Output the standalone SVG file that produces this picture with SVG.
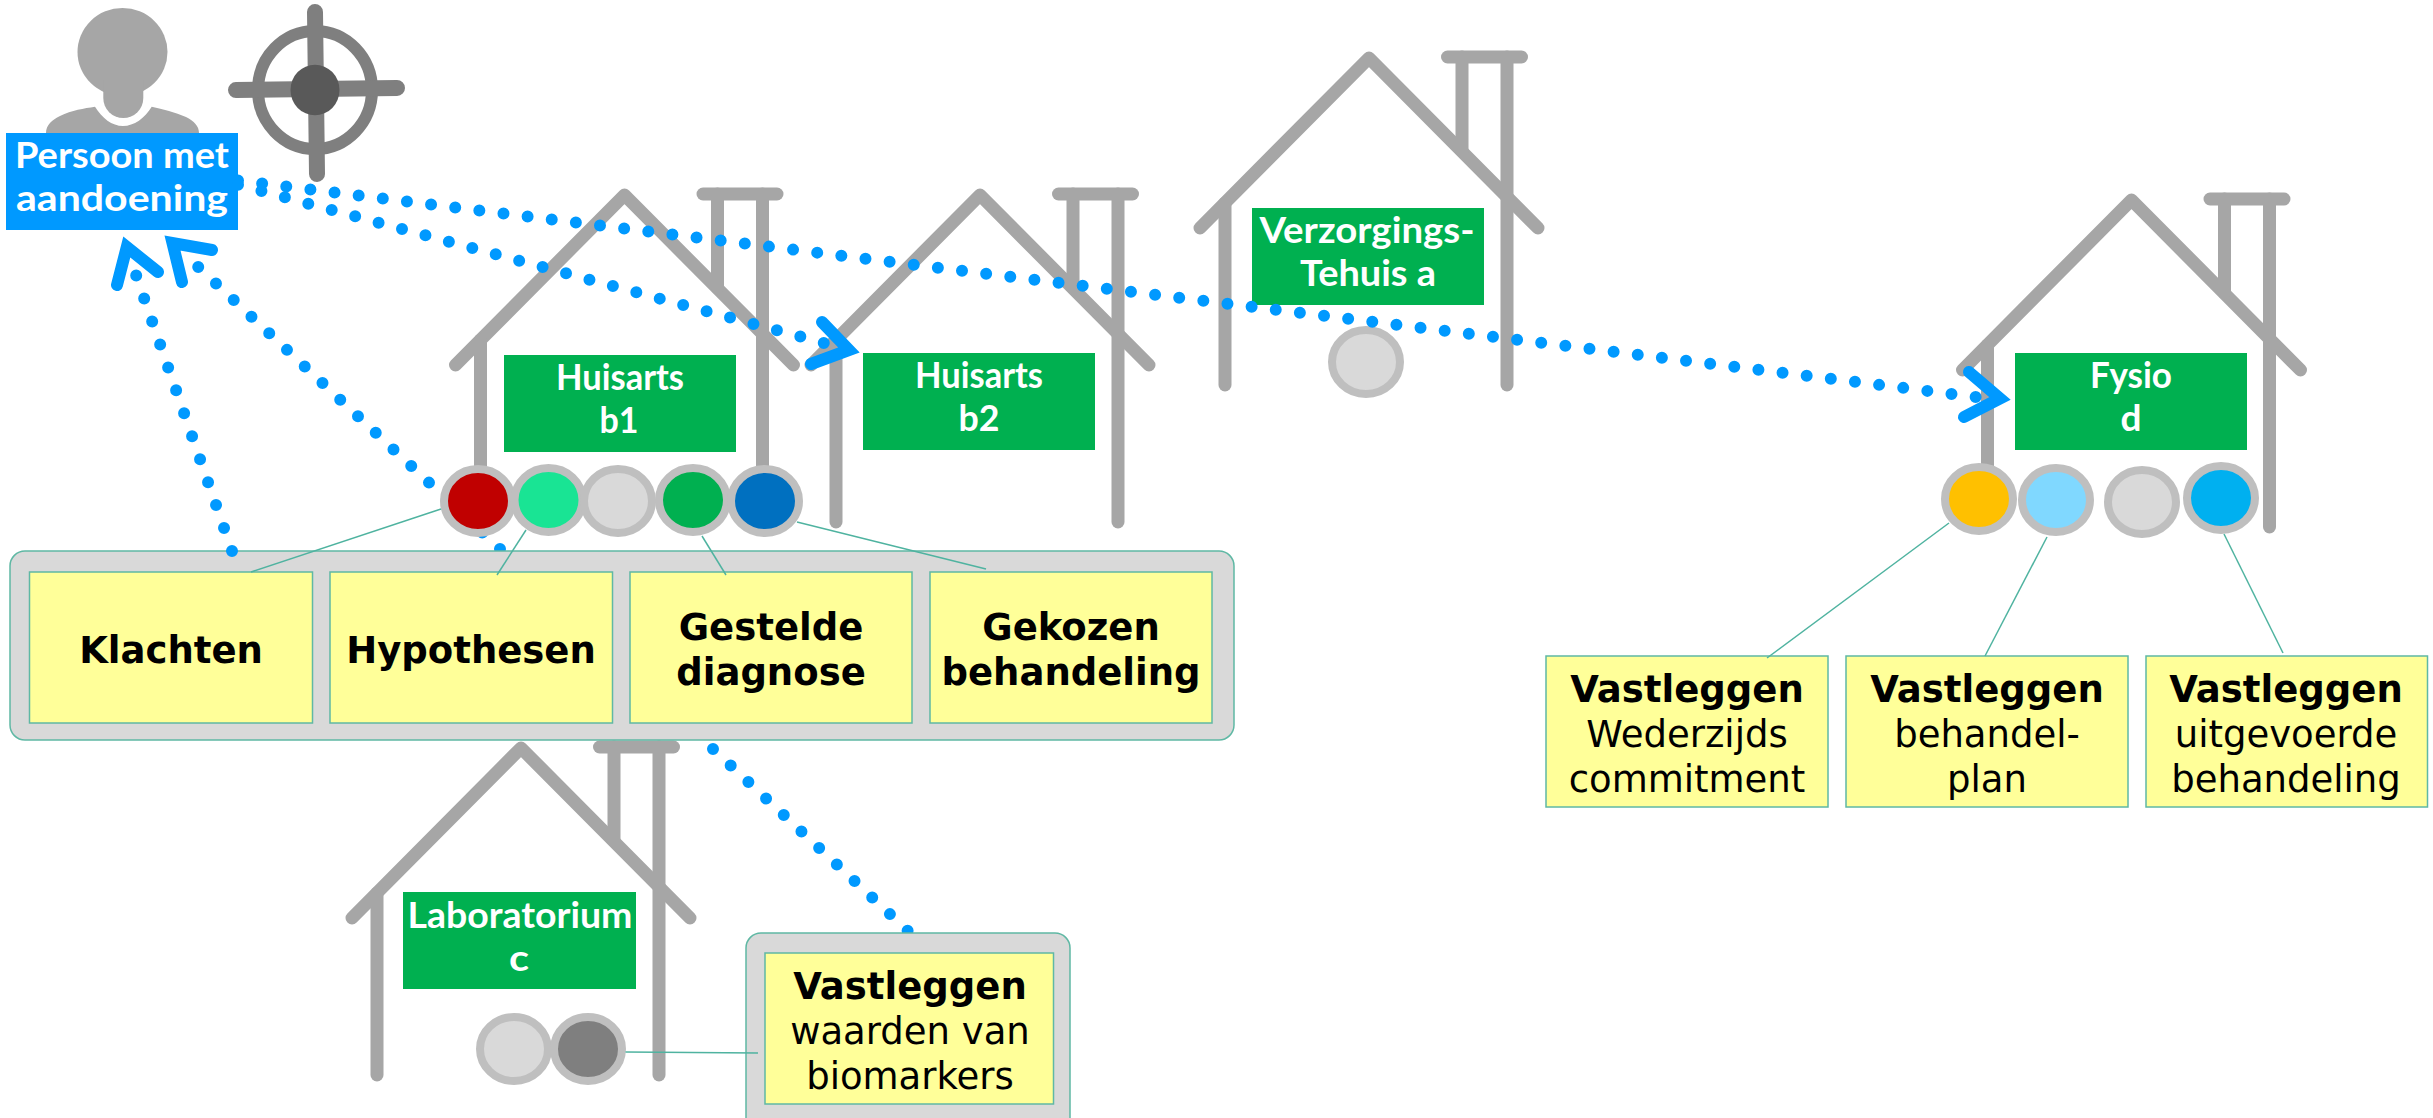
<svg xmlns="http://www.w3.org/2000/svg" xmlns:xlink="http://www.w3.org/1999/xlink" width="2433" height="1118" viewBox="0 0 2433 1118">
<style>
text{font-family:"DejaVu Sans","Liberation Sans",sans-serif;font-size:37px;fill:#000;text-anchor:middle}
.b{font-weight:700}
.l{font-family:"Lato","Liberation Sans",sans-serif;font-weight:700;font-size:36px;fill:#fff}
.hs{fill:none;stroke:#A6A6A6;stroke-width:13;stroke-linecap:round;stroke-linejoin:round}
.lab{fill:#00B050}
.panel{fill:#D9D9D9;stroke:#5FB8A4;stroke-width:1.5}
.y{fill:#FFFF99;stroke:#5FB8A4;stroke-width:1.5}
.c{stroke:#BFBFBF;stroke-width:8}
.dot{fill:none;stroke:#0099FF;stroke-width:12;stroke-linecap:round}
.ah{fill:none;stroke:#0099FF;stroke-width:12;stroke-linecap:round;stroke-linejoin:miter;stroke-miterlimit:10}
.t{fill:none;stroke:#4FB3A0;stroke-width:1.5}
.tg{fill:none;stroke:#7F7F7F;stroke-linecap:round}
</style>
<defs>
<g id="house" class="hs">
<path d="M-169 170L0 0L169 170"/>
<path d="M-144 145V327"/>
<path d="M138 -1V327"/>
<path d="M93 -1V93"/>
<path d="M78.500 -1H152.500"/>
</g>
</defs>
<rect width="2433" height="1118" fill="#fff"/>
<g id="connectors-back">
<path class="dot" d="M500 549L198 266.7" stroke-dasharray="0 24.3"/>
<path class="dot" d="M713 749L908 931" stroke-dasharray="0 24.2"/>
</g>
<g id="persoon">
<ellipse cx="122.5" cy="52" rx="45" ry="44" fill="#A6A6A6"/>
<path d="M103.3 80H143.3V98A20 20 0 0 1 103.3 98Z" fill="#A6A6A6"/>
<path d="M46 133C46 125 52 120 60 116C72 110 84 108.500 95 106.700C102 118 112 126 123 126C134 126 145 118 151.700 106.700C163 109 175 112 186 117C194 121 199 126 199 133Z" fill="#A6A6A6"/>
<rect x="6" y="133" width="232" height="97" fill="#0099FF"/>
<text class="l" x="122" y="168" textLength="214" lengthAdjust="spacingAndGlyphs">Persoon met</text>
<text class="l" x="122" y="211" textLength="212" lengthAdjust="spacingAndGlyphs">aandoening</text>
</g>
<g id="doel">
<ellipse cx="315" cy="90" rx="57" ry="59" fill="none" stroke="#7F7F7F" stroke-width="12"/>
<path class="tg" stroke-width="16" d="M236 90L397 88"/>
<path class="tg" stroke-width="16" d="M315 12L317 174"/>
<ellipse cx="315" cy="90" rx="24.500" ry="25.300" fill="#595959"/>
</g>
<g id="huisarts-b1">
<use href="#house" xlink:href="#house" x="624.500" y="195"/>
<rect class="lab" x="504" y="355" width="232" height="97"/>
<text class="l" x="620" y="390" textLength="128" lengthAdjust="spacingAndGlyphs">Huisarts</text>
<text class="l" x="619" y="433" textLength="39" lengthAdjust="spacingAndGlyphs">b1</text>
<ellipse class="c" cx="478" cy="501" rx="34" ry="32" fill="#C00000"/>
<ellipse class="c" cx="548.500" cy="500" rx="34" ry="32" fill="#19E494"/>
<ellipse class="c" cx="618" cy="501" rx="34" ry="32" fill="#D9D9D9"/>
<ellipse class="c" cx="693" cy="500" rx="34" ry="32" fill="#00B050"/>
<ellipse class="c" cx="765" cy="501" rx="34" ry="32" fill="#0070C0"/>
</g>
<g id="huisarts-b2">
<use href="#house" xlink:href="#house" x="980" y="195"/>
<rect class="lab" x="863" y="353" width="232" height="97"/>
<text class="l" x="979" y="388" textLength="128" lengthAdjust="spacingAndGlyphs">Huisarts</text>
<text class="l" x="979" y="431" textLength="41" lengthAdjust="spacingAndGlyphs">b2</text>
</g>
<g id="verzorgingstehuis-a">
<use href="#house" xlink:href="#house" x="1369" y="58"/>
<rect class="lab" x="1252" y="208" width="232" height="97"/>
<text class="l" x="1367" y="243" textLength="215" lengthAdjust="spacingAndGlyphs">Verzorgings-</text>
<text class="l" x="1368" y="286" textLength="136" lengthAdjust="spacingAndGlyphs">Tehuis a</text>
<ellipse class="c" cx="1366" cy="362" rx="34" ry="32" fill="#D9D9D9"/>
</g>
<g id="fysio-d">
<use href="#house" xlink:href="#house" x="2131.500" y="200"/>
<rect class="lab" x="2015" y="353" width="232" height="97"/>
<text class="l" x="2131" y="388" textLength="82" lengthAdjust="spacingAndGlyphs">Fysio</text>
<text class="l" x="2131" y="431" textLength="21" lengthAdjust="spacingAndGlyphs">d</text>
<ellipse class="c" cx="1979" cy="499" rx="34" ry="32" fill="#FFC000"/>
<ellipse class="c" cx="2056" cy="500" rx="34" ry="32" fill="#80D8FF"/>
<ellipse class="c" cx="2142" cy="502" rx="34" ry="32" fill="#D9D9D9"/>
<ellipse class="c" cx="2221" cy="498" rx="34" ry="32" fill="#00B0F0"/>
</g>
<g id="laboratorium-c">
<use href="#house" xlink:href="#house" x="521" y="748"/>
<rect class="lab" x="403" y="892" width="233" height="97"/>
<text class="l" x="520" y="928" textLength="225" lengthAdjust="spacingAndGlyphs">Laboratorium</text>
<text class="l" x="519" y="971" textLength="20" lengthAdjust="spacingAndGlyphs">c</text>
<ellipse class="c" cx="514" cy="1049" rx="34" ry="32" fill="#D9D9D9"/>
<ellipse class="c" cx="588" cy="1049" rx="34" ry="32" fill="#7F7F7F"/>
</g>
<g id="paneel-b1">
<rect class="panel" x="10" y="551" width="1224" height="189" rx="15"/>
</g>
<g id="klachten">
<rect class="y" x="29.500" y="572" width="283" height="151"/>
<text class="b" x="171" y="663">Klachten</text>
</g>
<g id="hypothesen">
<rect class="y" x="330" y="572" width="282.500" height="151"/>
<text class="b" x="471" y="663">Hypothesen</text>
</g>
<g id="diagnose">
<rect class="y" x="630" y="572" width="282" height="151"/>
<text class="b" x="771" y="640">Gestelde</text>
<text class="b" x="771" y="685">diagnose</text>
</g>
<g id="behandeling">
<rect class="y" x="930" y="572" width="282" height="151"/>
<text class="b" x="1071" y="640">Gekozen</text>
<text class="b" x="1071" y="685">behandeling</text>
</g>
<g id="biomarkers">
<rect class="panel" x="746" y="933" width="324" height="200" rx="15"/>
<rect class="y" x="765" y="953" width="288.500" height="151"/>
<text class="b" x="910" y="999">Vastleggen</text>
<text x="910" y="1044">waarden van</text>
<text x="910" y="1089">biomarkers</text>
</g>
<g id="commitment">
<rect class="y" x="1546" y="656" width="282" height="151"/>
<text class="b" x="1687" y="702">Vastleggen</text>
<text x="1687" y="747">Wederzijds</text>
<text x="1687" y="792">commitment</text>
</g>
<g id="behandelplan">
<rect class="y" x="1846" y="656" width="282" height="151"/>
<text class="b" x="1987" y="702">Vastleggen</text>
<text x="1987" y="747">behandel-</text>
<text x="1987" y="792">plan</text>
</g>
<g id="uitgevoerd">
<rect class="y" x="2146" y="656" width="281.500" height="151"/>
<text class="b" x="2286" y="702">Vastleggen</text>
<text x="2286" y="747">uitgevoerde</text>
<text x="2286" y="792">behandeling</text>
</g>
<g id="connectors">
<path class="t" d="M441 509L251 572"/>
<path class="t" d="M526 530L497 575"/>
<path class="t" d="M702 536L726 575"/>
<path class="t" d="M797 522L986 569"/>
<path class="t" d="M625.500 1052L758 1053"/>
<path class="t" d="M1949 523L1767 658"/>
<path class="t" d="M2047 537L1985 656"/>
<path class="t" d="M2224 534L2283 653"/>
<path class="dot" d="M232 551L136 275" stroke-dasharray="0 24.3"/>
<path class="dot" d="M238 180.500L1976.500 397" stroke-dasharray="0 24.32"/>
<path class="dot" d="M238 184.700L824 343" stroke-dasharray="0 24.27"/>
<path class="ah" d="M117 285L126.800 247L158 272"/>
<path class="ah" d="M182 282L172.500 243L212 250"/>
<path class="ah" d="M822 322L849 350L811 364"/>
<path class="ah" d="M1969 372L2000 398.400L1964 417"/>
</g>
</svg>
